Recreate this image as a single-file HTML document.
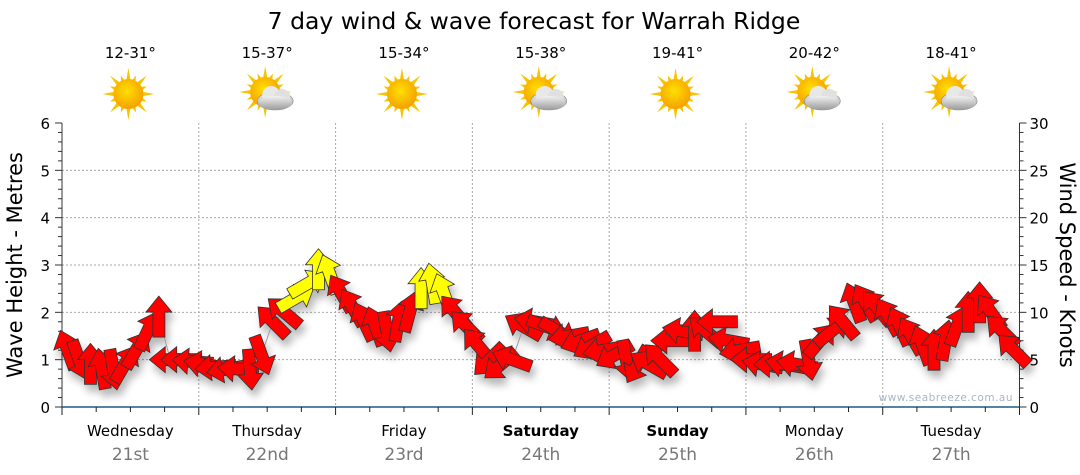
<!DOCTYPE html>
<html><head><meta charset="utf-8"><style>
body{margin:0;background:#fff;width:1080px;height:475px;overflow:hidden;font-family:"DejaVu Sans","Liberation Sans",sans-serif}
svg{display:block}
</style></head><body>
<svg id="chart" width="1080" height="475" viewBox="0 0 1080 475" xmlns="http://www.w3.org/2000/svg">
<defs>
<filter id="sh" x="-50%" y="-50%" width="200%" height="200%"><feGaussianBlur in="SourceAlpha" stdDeviation="4"/><feOffset dx="3" dy="7"/><feComponentTransfer><feFuncA type="linear" slope="0.28"/></feComponentTransfer><feMerge><feMergeNode/><feMergeNode in="SourceGraphic"/></feMerge></filter>
<radialGradient id="sunG" cx="45%" cy="40%" r="60%"><stop offset="0" stop-color="#ffe000"/><stop offset="1" stop-color="#f6a000"/></radialGradient>
<linearGradient id="cloudG" x1="0" y1="0" x2="0" y2="1"><stop offset="0" stop-color="#f2f2f2"/><stop offset="1" stop-color="#9a9a9a"/></linearGradient>
</defs>
<text x="534" y="29" font-size="23.5" text-anchor="middle" fill="#000">7 day wind &amp; wave forecast for Warrah Ridge</text>
<g id="grid"></g>
<g id="axes"></g>
<g id="header"></g>
<g id="marks" filter="url(#sh)"></g>
<text x="1013" y="401" font-size="10.5" text-anchor="end" fill="#aab4c4" letter-spacing="0.5">www.seabreeze.com.au</text>
<text transform="translate(22,265) rotate(-90)" font-size="21" text-anchor="middle" fill="#000">Wave Height - Metres</text>
<text transform="translate(1060,265) rotate(90)" font-size="21" text-anchor="middle" fill="#000">Wind Speed - Knots</text>
</svg>
<script>
const days = ["Wednesday","Thursday","Friday","Saturday","Sunday","Monday","Tuesday"];
const dates = ["21st","22nd","23rd","24th","25th","26th","27th"];
const boldDays = [false,false,false,true,true,false,false];
const temps = ["12-31°","15-37°","15-34°","15-38°","19-41°","20-42°","18-41°"];
const cloudy = [false,true,false,true,false,true,true];
const waveTicks = [0,1,2,3,4,5,6];
const windTicks = [0,5,10,15,20,25,30];
// wind speed (knots), every 2 hours
const windSpeed = [
 6,5,4.5,4,4,4.5,6,8,9.5,5,5,4.8,
 4.5,4.2,4,4,4,5.5,9,10,11.5,13,14.5,14,
 12,10.5,9,8.5,8,9,10,12.5,13,12,10,8.5,
 6.5,5,4.5,5,8.5,9,8.5,8,7.5,7,6.5,6,
 5.5,5,4.5,4.5,5,7,8,8,8,9,7,6,
 5,4.5,4.5,4.5,4.5,5,7,8,9,11,11,10.5,
 9.5,8.5,7.5,6.5,6,7,8.5,10,11,10,8,6
];
// arrow heading (degrees, 0 = pointing up, clockwise)
const windDir = [
 -20,160,0,-10,170,30,30,25,0,-90,-90,-85,
 -80,-95,-100,-85,175,160,-45,-50,60,60,0,-20,
 -30,-30,-25,-20,170,10,15,0,-10,-20,-40,-45,
 -40,-135,-130,-70,-60,-80,110,120,-100,-110,-120,-100,
 -120,170,-150,-60,-45,-90,-80,0,-50,-90,-80,-100,
 -90,-80,-90,-80,-80,170,40,50,-40,-20,-30,-40,
 -30,-25,-30,-20,0,10,20,0,0,-35,-45,-45
];
// 1 = yellow (strong) arrow
const windFlag = [
 0,0,0,0,0,0,0,0,0,0,0,0,
 0,0,0,0,0,0,0,0,1,1,1,1,
 0,0,0,0,0,0,0,1,1,1,0,0,
 0,0,0,0,0,0,0,0,0,0,0,0,
 0,0,0,0,0,0,0,0,0,0,0,0,
 0,0,0,0,0,0,0,0,0,0,0,0,
 0,0,0,0,0,0,0,0,0,0,0,0
];
const NS="http://www.w3.org/2000/svg";
const X0=62,X1=1019.5,Y0=407,Y1=123;
const dayW=(X1-X0)/7;
const xDay=d=>X0+d*dayW;
const xHour=h=>X0+h/24*dayW;
const yWave=m=>Y0-(m/6)*(Y0-Y1);
const yWind=k=>Y0-(k/30)*(Y0-Y1);
function el(tag,attrs,parent,text){const e=document.createElementNS(NS,tag);for(const k in attrs)e.setAttribute(k,attrs[k]);if(text!==undefined)e.textContent=text;parent.appendChild(e);return e;}
const grid=document.getElementById('grid'),axes=document.getElementById('axes'),header=document.getElementById('header'),marks=document.getElementById('marks');
waveTicks.forEach(m=>{if(m>0&&m<6){const l=el('line',{x1:X0,x2:X1,y1:yWave(m),y2:yWave(m),stroke:'#aaa','stroke-dasharray':'2,2'},grid);

}});
for(let d=1;d<7;d++){const l=el('line',{x1:xDay(d),x2:xDay(d),y1:Y1,y2:Y0,stroke:'#aaa','stroke-dasharray':'2,2'},grid);

}
el('line',{x1:X0,x2:X0,y1:Y1,y2:Y0,stroke:'#333'},axes);
for(let i=0;i<=30;i++){const y=yWave(i*0.2);const maj=i%5==0;el('line',{x1:X0-(maj?7:4),x2:X0,y1:y,y2:y,stroke:'#333'},axes);}
waveTicks.forEach(m=>{const t=el('text',{x:X0-12,y:yWave(m)+6,'font-size':15,'text-anchor':'end',fill:'#000'},axes,m);

});
el('line',{x1:X1,x2:X1,y1:Y1,y2:Y0,stroke:'#333'},axes);
for(let k=0;k<=30;k++){const y=yWind(k);const maj=k%5==0;el('line',{x1:X1,x2:X1+(maj?7:4),y1:y,y2:y,stroke:'#333'},axes);}
windTicks.forEach(k=>{const t=el('text',{x:X1+10,y:yWind(k)+6,'font-size':15,'text-anchor':'start',fill:'#000'},axes,k);

});
el('line',{x1:X0,x2:X1,y1:Y0,y2:Y0,stroke:'#1d5a85','stroke-width':1.5},axes);
for(let h=0;h<=168;h+=6){const maj=h%24==0;el('line',{x1:xHour(h),x2:xHour(h),y1:Y0,y2:Y0+(maj?8:5),stroke:'#222'},axes);}
days.forEach((d,i)=>{const cx=xDay(i)+dayW/2;
const t=el('text',{x:cx,y:436,'font-size':15,'text-anchor':'middle',fill:'#000','font-weight':boldDays[i]?'bold':'normal'},axes,d);


const t2=el('text',{x:cx,y:460,'font-size':17,'text-anchor':'middle',fill:'#777'},axes,dates[i]);


const t3=el('text',{x:cx,y:58,'font-size':15,'text-anchor':'middle',fill:'#000'},header,temps[i]);


const g=el('g',{transform:`translate(${cx-2},${cloudy[i]?92:94})`},header);


for(let r=0;r<16;r++){const a=r*22.5*Math.PI/180;const L=r%2?20:26;
el('polygon',{points:`${Math.cos(a)*L},${Math.sin(a)*L} ${Math.cos(a+0.18)*13},${Math.sin(a+0.18)*13} ${Math.cos(a-0.18)*13},${Math.sin(a-0.18)*13}`,fill:'#f7c400'},g);}
el('circle',{cx:0,cy:0,r:15,fill:'url(#sunG)'},g);
if(cloudy[i]){const c=el('g',{transform:'translate(10,6)'},g);
el('ellipse',{cx:0,cy:3,rx:18,ry:9,fill:'url(#cloudG)',stroke:'#888','stroke-width':0.6},c);
el('circle',{cx:-4,cy:-3,r:9,fill:'#e8e8e8'},c);
el('circle',{cx:7,cy:-1,r:8,fill:'#e0e0e0'},c);
el('ellipse',{cx:0,cy:5,rx:17,ry:7,fill:'url(#cloudG)'},c);}
});
let pts=windSpeed.map((k,i)=>`${xHour(i*2+1)},${yWind(k)}`).join(' ');
const pl=el('polyline',{points:pts,fill:'none',stroke:'#999','stroke-width':1},marks);


const arrowPts="0,-21 13,-5 6,-5 6,20 -6,20 -6,-5 -13,-5";
windSpeed.forEach((k,i)=>{
 const a=el('polygon',{points:arrowPts,transform:`translate(${xHour(i*2+1)},${yWind(k)}) rotate(${windDir[i]})`,fill:windFlag[i]?'#ffff00':'#ff0000',stroke:'#333','stroke-width':0.8,'stroke-linejoin':'miter'},marks);
 
 
});
</script>
</body></html>
